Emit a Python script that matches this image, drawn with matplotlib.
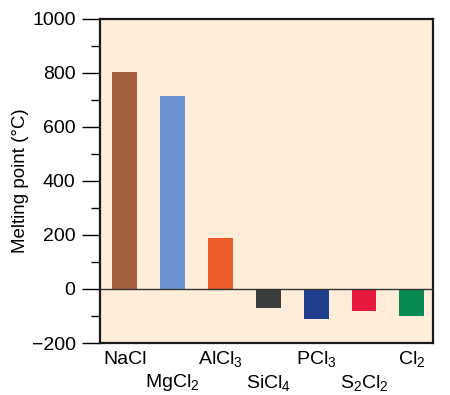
import numpy as np
import matplotlib.pyplot as plt
from matplotlib.ticker import MultipleLocator
import matplotlib.transforms as mtransforms

plt.rcParams['font.family'] = ['Liberation Sans', 'DejaVu Sans']
plt.rcParams['mathtext.default'] = 'regular'

compounds = ['NaCl', r'MgCl$_2$', r'AlCl$_3$', r'SiCl$_4$', r'PCl$_3$', r'S$_2$Cl$_2$', r'Cl$_2$']
melting_points = [801, 714, 190, -70, -112, -80, -101]
bar_colors = ['#A5603F', '#6A93D3', '#EE5C2B', '#393D3C', '#1F3E8E', '#E8193F', '#078B52']

fig = plt.figure(figsize=(4.5, 3.95), dpi=100)
ax = fig.add_axes([0.222, 0.1316, 0.740, 0.8215])
ax.set_facecolor('#FDEDD9')

x = np.arange(len(compounds))
ax.bar(x, melting_points, width=0.52, color=bar_colors, zorder=2)
ax.axhline(0, color='#333333', lw=1.0, zorder=3)

ax.set_xlim(-0.52, 6.44)
ax.set_ylim(-200, 1000)
ax.yaxis.set_major_locator(MultipleLocator(200))
ax.yaxis.set_minor_locator(MultipleLocator(100))
ax.tick_params(axis='y', which='major', length=13, width=1.0, pad=4.5, labelsize=14)
ax.tick_params(axis='y', which='minor', length=6.5, width=1.0)
ax.set_xticks([])
for s in ax.spines.values():
    s.set_linewidth(1.6)
    s.set_color('#1a1a1a')

ax.set_ylabel('Melting point (°C)', fontsize=13.5, labelpad=2)

# staggered compound labels below the axis
trans = mtransforms.blended_transform_factory(ax.transData, ax.transAxes)
for i, name in enumerate(compounds):
    yy = -0.05 if i % 2 == 0 else -0.122
    ax.text(i, yy, name, transform=trans, ha='center', va='center', fontsize=14)

plt.savefig('out.png', dpi=100)
